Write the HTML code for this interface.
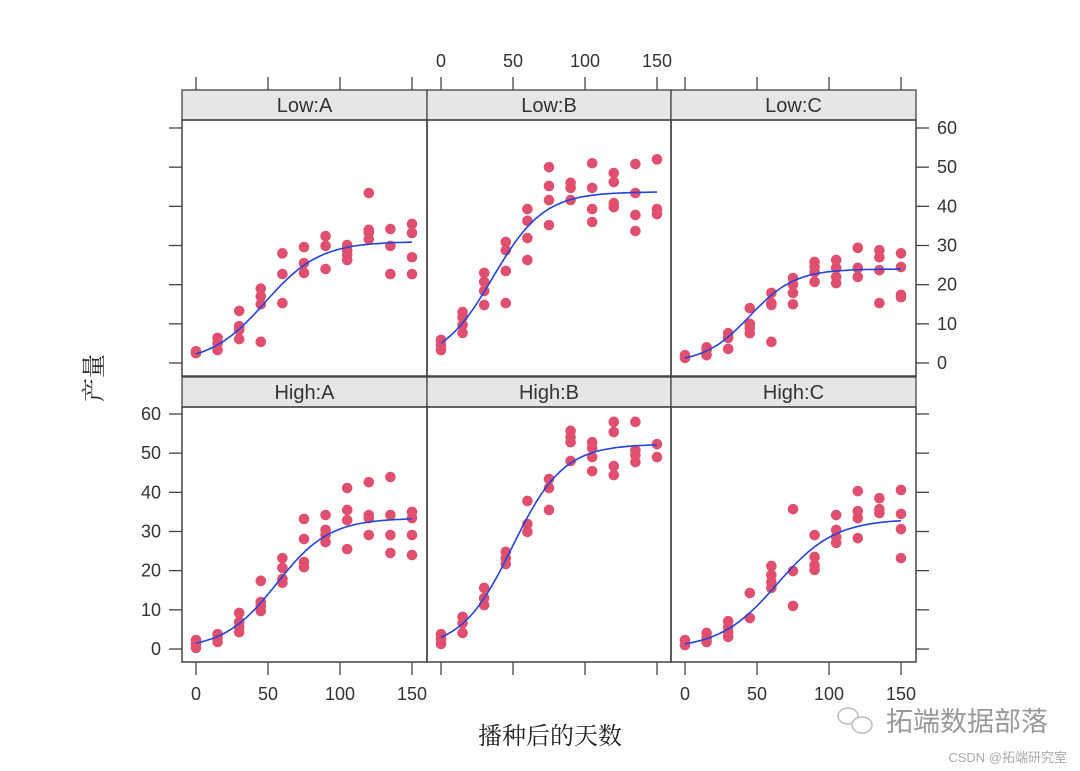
<!DOCTYPE html>
<html><head><meta charset="utf-8">
<style>
html,body{margin:0;padding:0;background:#fff;}
svg{display:block;font-family:"Liberation Sans","Noto Sans CJK SC",sans-serif;}
</style></head>
<body>
<svg id="chart" width="1080" height="771" viewBox="0 0 1080 771" xmlns="http://www.w3.org/2000/svg">
<text x="102" y="378" font-family="'Liberation Serif','Noto Serif CJK SC',serif" font-size="24" fill="#222" text-anchor="middle" transform="rotate(-90 102 378)">产量</text>
<text x="550" y="744" font-family="'Liberation Serif','Noto Serif CJK SC',serif" font-size="24" fill="#222" text-anchor="middle">播种后的天数</text>
<g>
<ellipse cx="848" cy="716" rx="10" ry="8" fill="none" stroke="#bbb" stroke-width="1.5"/>
<ellipse cx="862" cy="725" rx="10" ry="8" fill="#fff" stroke="#bbb" stroke-width="1.5"/>
<text x="886" y="731" font-size="27" fill="#999" font-family="'Noto Sans CJK SC',sans-serif">拓端数据部落</text>
<text x="1067" y="762" font-size="13" fill="#aaa" text-anchor="end">CSDN @拓端研究室</text>
</g>
</svg>
<script>
const days = [0,15,30,45,60,75,90,105,120,135,150];
const panelNames = ["Low:A","Low:B","Low:C","High:A","High:B","High:C"];
const lowA = [[3,2.5],[6.4,5,3.3],[13.3,9.4,8.4,6.1],[19,17,15,5.4],[28,22.7,15.3],[29.6,25.5,23],[32.4,29.9,24],[30.1,28.8,27.6,26.3],[43.4,34,33.2,31.6],[34.2,29.9,22.7],[35.5,33.2,27,22.7]];
const lowB = [[5.9,4.6,3.3],[13,11.7,9.7,7.7],[23,20.7,18.4,14.8],[30.9,28.8,23.5,15.3],[39.3,36.3,31.9,26.3],[50,45.2,41.6,35.2],[46,44.7,41.6],[51,44.7,39.3,36],[48.5,46.2,40.8,39.8],[50.8,43.4,37.8,33.7],[52,39.3,38]];
const lowC = [[2,1.3],[4,3.3,2],[7.6,6.4,3.6],[14,10,9,7.6],[17.9,15.3,14.8,5.4],[21.7,20,17.9,15],[25.8,24.5,23.2,20.7],[26.3,24.3,22,20.4],[29.4,24.3,22],[28.8,27,23.7,15.3],[28,24.5,17.4,16.8]];
const highA = [[2.3,1.3,0.3],[3.8,2.8,1.8],[9.2,6.9,5.6,4.3],[17.4,12,11,9.7],[23.2,20.7,17.9,16.9],[33.2,28.1,22.2,20.9],[34.2,30.4,29.1,27.3],[41.1,35.5,32.9,25.5],[42.6,34.2,33.4,29.1],[43.9,34.2,29.1,24.5],[35,33.4,29.1,24]];
const highB = [[3.8,2.6,1.3],[8.2,6.6,4.1],[15.6,13,11.2],[24.8,23.2,21.7],[37.8,31.9,29.9],[43.4,41.1,35.5],[55.7,54.1,52.8,48],[52.8,51.3,49,45.4],[58,55.4,46.7,44.4],[58,50.8,49.5,47.7],[52.3,49]];
const highC = [[2.3,1],[4.1,2.8,1.8],[7.1,5.6,4.3,3.1],[14.3,7.9],[21.2,18.9,17.1,15.6],[35.7,19.9,11],[29.1,23.5,21.4,20.2],[34.2,30.4,28.6,27.1],[40.3,35.2,33.4,28.3],[38.5,35.7,34.7],[40.6,34.5,30.6,23.2]];
const asym = [31,43.7,24,33.4,52.3,33.2];
const xmid = [48,36,45,56,49.6,64];
const scal = [19,17.7,15.7,18.3,17.7,20];
const xTicks = [0,50,100,150];
const yTicks = [0,10,20,30,40,50,60];

const NS="http://www.w3.org/2000/svg";
const svg=document.getElementById('chart');
const series=[lowA,lowB,lowC,highA,highB,highC];
const colL=[182,427,671], colR=[427,671,916];
const rowStrip=[90,377], rowTop=[120,407], rowBot=[376,662];
function xs(c,v){return colL[c]+14+v*216/150;}
function ys(r,v){return rowBot[r]-13-v*235/60;}
function mk(tag,attrs,parent){const e=document.createElementNS(NS,tag);for(const k in attrs)e.setAttribute(k,attrs[k]);(parent||svg).appendChild(e);return e;}
const col="#444";
for(let p=0;p<6;p++){
  const r=Math.floor(p/3), c=p%3;
  const g=mk('g',{});
  
  
  const st=mk('rect',{x:colL[c],y:rowStrip[r],width:colR[c]-colL[c],height:rowTop[r]-rowStrip[r],fill:'#e6e6e6',stroke:col,'stroke-width':1.3},g);
  
  
  const t=mk('text',{x:(colL[c]+colR[c])/2,y:rowTop[r]-8,'font-size':20,fill:'#333','text-anchor':'middle'},g);
  t.textContent=panelNames[p];
  
  
  const fr=mk('rect',{x:colL[c],y:rowTop[r],width:colR[c]-colL[c],height:rowBot[r]-rowTop[r],fill:'none',stroke:col,'stroke-width':1.5},g);
  
  
  // points
  const data=series[p];
  for(let i=0;i<days.length;i++){for(const v of data[i]){
    const pt=mk('circle',{cx:xs(c,days[i]),cy:ys(r,v),r:5.3,fill:'#e0506e'},g);
    
    
  }}
  // curve
  let d='';
  for(let x=0;x<=150;x+=2){const v=asym[p]/(1+Math.exp((xmid[p]-x)/scal[p]));d+=(x?'L':'M')+xs(c,x).toFixed(1)+','+ys(r,v).toFixed(1);}
  const ln=mk('path',{d:d,fill:'none',stroke:'#2244dd','stroke-width':1.6},g);
  
  
}
// x axes
for(let c=0;c<3;c++){
  for(const v of xTicks){
    const x=xs(c,v);
    const tt=mk('line',{x1:x,x2:x,y1:77,y2:90,stroke:col,'stroke-width':1.3});
    
    
    const tb=mk('line',{x1:x,x2:x,y1:662,y2:675,stroke:col,'stroke-width':1.3});
    
    
    const lbl=mk('text',{x:x,y:c===1?67:700,'font-size':18,fill:'#333','text-anchor':'middle'});
    lbl.textContent=v;
    
    
  }
}
// y axes
for(let r=0;r<2;r++){
  for(const v of yTicks){
    const y=ys(r,v);
    const tl=mk('line',{x1:169,x2:182,y1:y,y2:y,stroke:col,'stroke-width':1.3});
    
    
    const tr=mk('line',{x1:916,x2:929,y1:y,y2:y,stroke:col,'stroke-width':1.3});
    
    
    const lbl=mk('text',{x:r===0?937:161,y:y+6,'font-size':18,fill:'#333','text-anchor':r===0?'start':'end'});
    lbl.textContent=v;
    
    
  }
}
</script>
</body></html>
